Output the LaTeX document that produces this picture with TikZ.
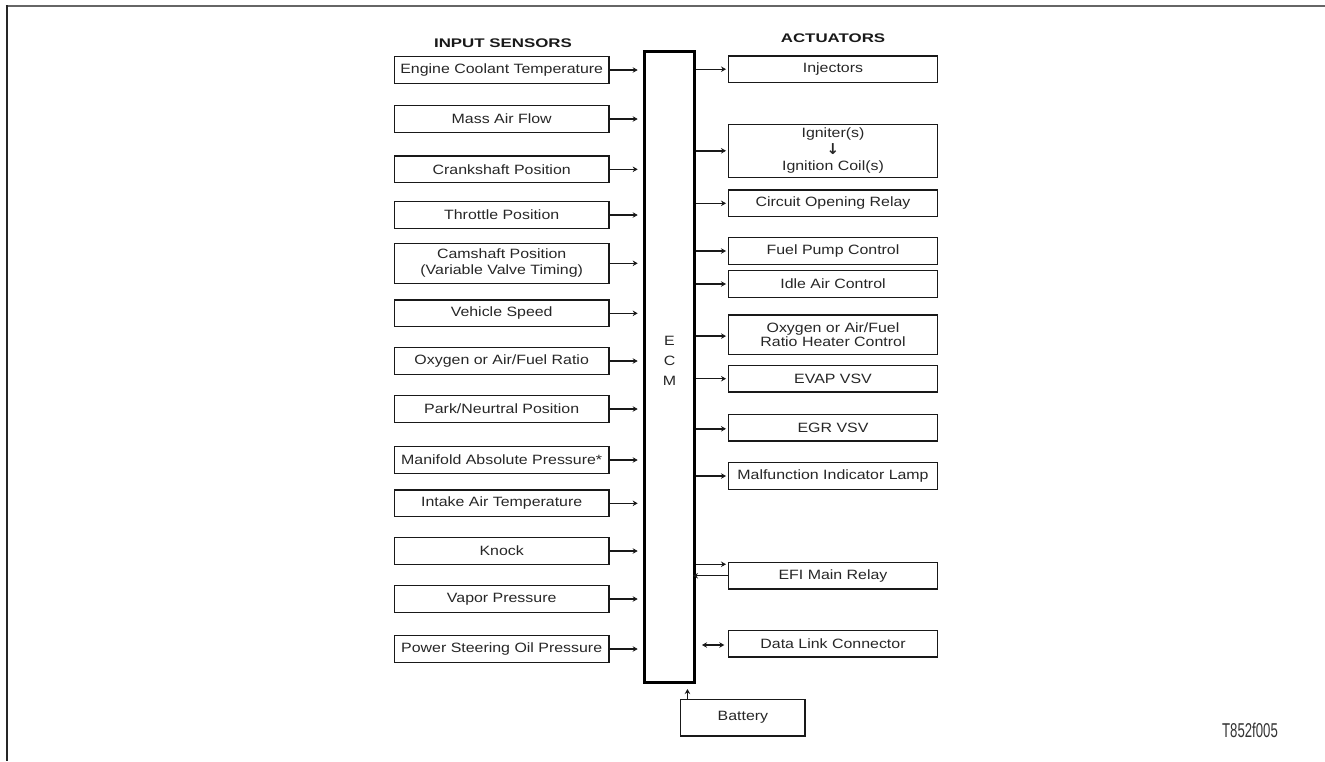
\documentclass[tikz,border=0pt]{standalone}
\usepackage{fontspec}
\setmainfont{Liberation Sans}[FakeStretch=1.18]
\newfontfamily\headfont{Liberation Sans}[FakeStretch=1.35]
\newfontfamily\tagfont{Liberation Sans}[FakeStretch=0.66]
\newfontfamily\symfont{DejaVu Sans}
\usetikzlibrary{arrows.meta}

\tikzset{
  box/.style={draw=black!90, line width=1.4pt, inner sep=0pt, align=center,
    text=black!85, font=\fontsize{13.5}{15}\selectfont},
  sensor/.style={box, minimum width=214.7pt, minimum height=26.5pt},
  actuator/.style={box, minimum width=208.6pt, minimum height=26.5pt},
  sig/.style={line width=1.4pt, draw=black!90, -{Stealth[length=5pt,width=5.5pt]}},
  both/.style={line width=1.4pt, draw=black!90, {Stealth[length=5pt,width=5.5pt]}-{Stealth[length=5pt,width=5.5pt]}},
  head/.style={font=\headfont\bfseries\fontsize{12.5}{15}\selectfont, text=black!90},
}

\begin{document}
\begin{tikzpicture}[x=1pt, y=-1pt]
\useasboundingbox (0,0) rectangle (1325,761);

% frame edges
\draw[line width=2pt, black!60] (5.5,5.5) -- (1325,5.5);
\draw[line width=2pt, black!85] (6.5,5) -- (6.5,761);

% headings
\node[head] (hin) at (503,43) {INPUT SENSORS};
\node[head] (hout) at (833,38) {ACTUATORS};

% engine control module
\node[draw=black, line width=3pt, minimum width=50.3pt, minimum height=631pt, inner sep=0pt] (ecm) at (669.35,367) {};
\node[font=\fontsize{13.5}{20}\selectfont, align=center, text=black!85] (ecmtxt) at (669.5,361) {E\\C\\M};

% input sensors
\node[sensor] (s1)  at (501.7,70)    {Engine Coolant Temperature};
\node[sensor] (s2)  at (501.7,119)   {Mass Air Flow};
\node[sensor] (s3)  at (501.7,169.3) {Crankshaft Position};
\node[sensor] (s4)  at (501.7,215)   {Throttle Position};
\node[sensor, minimum height=40pt, font=\fontsize{13.5}{15.7}\selectfont] (s5) at (501.7,263.3) {Camshaft Position\\(Variable Valve Timing)};
\node[sensor] (s6)  at (501.7,313.3) {Vehicle Speed};
\node[sensor] (s7)  at (501.7,361)   {Oxygen or Air/Fuel Ratio};
\node[sensor] (s8)  at (501.7,409)   {Park/Neurtral Position};
\node[sensor] (s9)  at (501.7,460)   {Manifold Absolute Pressure*};
\node[sensor] (s10) at (501.7,503.3) {Intake Air Temperature};
\node[sensor] (s11) at (501.7,551)   {Knock};
\node[sensor] (s12) at (501.7,599)   {Vapor Pressure};
\node[sensor] (s13) at (501.7,649)   {Power Steering Oil Pressure};

\foreach \s in {s1,s2,s3,s4,s5,s6,s7,s8,s9,s10,s11,s12,s13}
  \draw[sig, shorten >=5pt] (\s.east) -- (\s.east -| ecm.west);

% actuators
\node[actuator] (a1) at (833,69.2)  {Injectors};
\node[actuator, minimum height=53pt, font=\fontsize{13.5}{16.3}\selectfont] (a2) at (833,150.8)
  {Igniter(s)\\{\symfont\bfseries\fontsize{15}{16.3}\selectfont ↓}\\Ignition Coil(s)};
\node[actuator] (a3) at (833,203.3) {Circuit Opening Relay};
\node[actuator] (a4) at (833,251)   {Fuel Pump Control};
\node[actuator] (a5) at (833,284)   {Idle Air Control};
\node[actuator, minimum height=39.3pt, font=\fontsize{13.5}{14.6}\selectfont] (a6) at (833,334.7)
  {Oxygen or Air/Fuel\\Ratio Heater Control};
\node[actuator] (a7) at (833,378.7) {EVAP VSV};
\node[actuator] (a8) at (833,427.8) {EGR VSV};
\node[actuator] (a9) at (833,476)   {Malfunction Indicator Lamp};
\node[actuator] (a10) at (833,575.7) {EFI Main Relay};
\node[actuator] (a11) at (833,643.7) {Data Link Connector};

\foreach \a/\dy in {a1/0,a2/0,a3/0,a4/0,a5/0,a6/-1.4,a7/0,a8/-1,a9/0}
  \draw[sig, shorten >=2pt] ([yshift=\dy pt]\a.west -| ecm.east) -- ([yshift=\dy pt]\a.west);

% main relay: drive and feedback
\draw[sig, shorten >=2pt] ([yshift=-2.5pt]a10.north west -| ecm.east) -- ([yshift=-2.5pt]a10.north west);
\draw[sig, shorten >=-3pt] ([yshift=-14pt]a10.north west) -- ([yshift=-14pt]a10.north west -| ecm.east);

% diagnostic link
\draw[both, shorten <=6pt, shorten >=3.7pt] ([yshift=-1.3pt]a11.west -| ecm.east) -- ([yshift=-1.3pt]a11.west);

% supply
\node[box, minimum width=124.3pt, minimum height=36.7pt] (bat) at (742.9,717.7) {Battery};
\draw[sig, shorten >=5pt] ([xshift=7.4pt]bat.north west) -- ([xshift=7.4pt]bat.north west |- ecm.south);

% figure tag
\node[font=\tagfont\fontsize{20}{22}\selectfont, text=black!80] (tag) at (1250,730.5) {T852f005};
\end{tikzpicture}
\end{document}
